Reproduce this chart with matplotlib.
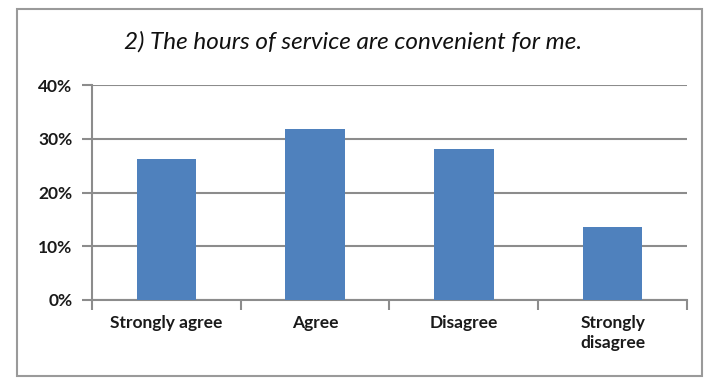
import matplotlib.pyplot as plt
from matplotlib.patches import Rectangle
from matplotlib.ticker import FixedLocator

categorias = ['Strongly agree', 'Agree', 'Disagree', 'Strongly\ndisagree']
percentuais = [0.263, 0.318, 0.280, 0.136]
ticks_y = [0.0, 0.1, 0.2, 0.3, 0.4]
rotulos_y = ['0%', '10%', '20%', '30%', '40%']
titulo = '2) The hours of service are convenient for me.'

cor_barra = '#4F81BD'
cor_grade = '#8C8C8C'

plt.rcParams['font.family'] = ['Lato', 'DejaVu Sans']

fig = plt.figure(figsize=(7.06, 3.82), dpi=100)

# moldura externa do gráfico
fig.patches.append(Rectangle((17 / 706, 1 - 376 / 382), (702 - 17) / 706, (376 - 9) / 382,
                             transform=fig.transFigure, fill=False,
                             edgecolor='#9A9A9A', linewidth=1.5))

ax = fig.add_axes([92 / 706, 82 / 382, 595 / 706, 215 / 382])

x = range(len(categorias))
ax.bar(x, percentuais, width=0.40, color=cor_barra, zorder=3)

ax.set_xlim(-0.5, 3.5)
ax.set_ylim(0, 0.40)

ax.set_yticks(ticks_y)
ax.set_yticklabels(rotulos_y)
ax.yaxis.grid(True, color=cor_grade, linewidth=1.5, zorder=0)

# marcas entre categorias, rótulos no centro
ax.xaxis.set_major_locator(FixedLocator([-0.5, 0.5, 1.5, 2.5, 3.5]))
ax.xaxis.set_minor_locator(FixedLocator(list(x)))
ax.set_xticklabels([])
ax.set_xticklabels(categorias, minor=True)

ax.tick_params(axis='x', which='major', length=7, width=1.5, color=cor_grade)
ax.tick_params(axis='x', which='minor', length=0, pad=11, labelsize=12.5)
ax.tick_params(axis='y', length=7, width=1.5, color=cor_grade, pad=7, labelsize=12.5)
for lbl in ax.get_xticklabels(minor=True) + ax.get_yticklabels():
    lbl.set_fontweight('bold')
    lbl.set_color('#1A1A1A')
for lbl in ax.get_xticklabels(minor=True):
    lbl.set_linespacing(1.25)

for lado in ['top', 'right']:
    ax.spines[lado].set_visible(False)
for lado in ['left', 'bottom']:
    ax.spines[lado].set_color(cor_grade)
    ax.spines[lado].set_linewidth(1.5)

fig.text(353 / 706, 1 - 42 / 382, titulo, ha='center', va='center',
         fontsize=17.5, style='italic', color='#111111')

fig.savefig('out.png', dpi=100, facecolor='white')
